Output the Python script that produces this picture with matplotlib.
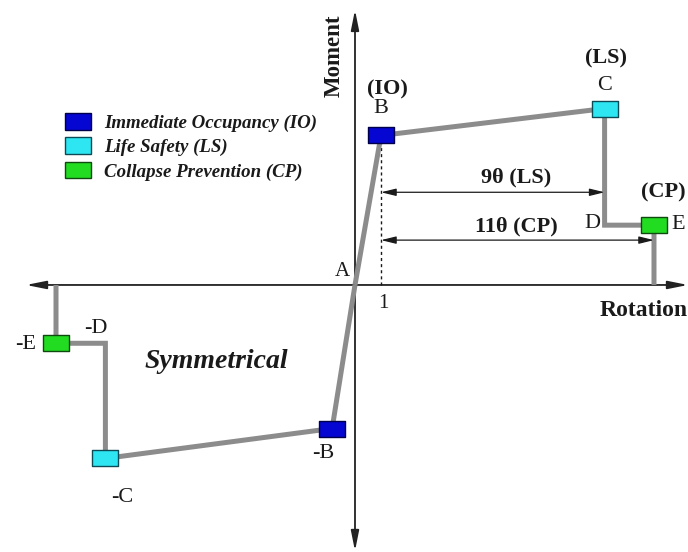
import matplotlib
matplotlib.use("Agg")
import matplotlib.pyplot as plt
from matplotlib.path import Path
from matplotlib.patches import Patch

# Generalized moment-rotation backbone (positive branch): A, B, C, D, E, end on axis
pos_rotation = [0.0, 1.0, 9.6, 9.6, 11.5, 11.5]
pos_moment = [0.0, 1.0, 1.18, 0.40, 0.40, 0.0]
pos_labels = ["A", "B", "C", "D", "E"]

# Negative branch: A, -B, -C, -D, -E, end on axis
neg_rotation = [0.0, -0.88, -9.6, -9.6, -11.5, -11.5]
neg_moment = [0.0, -0.96, -1.16, -0.39, -0.39, 0.0]
neg_labels = ["", "-B", "-C", "-D", "-E"]

# Performance levels and the backbone points where they sit
level_names = ["Immediate Occupancy (IO)", "Life Safety (LS)", "Collapse Prevention (CP)"]
level_tags = ["(IO)", "(LS)", "(CP)"]
level_colors = ["#0606d2", "#2ee6f2", "#22dc22"]
level_edges = ["#00004a", "#0c4a55", "#0e4a0e"]
level_index = [1, 2, 4]

# Plastic rotation spans measured from yield (in units of θ)
span_labels = ["9θ (LS)", "11θ (CP)"]
span_end_index = [2, 4]
span_height = [0.62, 0.30]

SERIF = ["Liberation Serif", "DejaVu Serif"]
LINE = "#8c8c8c"
INK = "#1a1a1a"

fig = plt.figure(figsize=(6.88, 5.52), dpi=100)
ax = fig.add_axes([0, 0, 1, 1])
ax.set_xlim(-13.654, 12.808)
ax.set_ylim(-1.786, 1.906)
ax.axis("off")


def at(xp, yp):
    """Position given in pixels from the top-left corner -> data coordinates."""
    return (xp - 355) / 26.0, (285 - yp) / 149.5


# coordinate axes with arrow heads at both ends
axis_arrow = dict(arrowstyle="<|-|>,head_length=1.0,head_width=0.2",
                  color="#222222", lw=1.3, shrinkA=0, shrinkB=0, mutation_scale=12)
ax.annotate("", xy=at(688, 285), xytext=at(26, 285), arrowprops=axis_arrow, zorder=1)
ax.annotate("", xy=at(355, 10), xytext=at(355, 551), arrowprops=axis_arrow, zorder=1)

# backbone curve
ax.plot(pos_rotation, pos_moment, color=LINE, lw=3.6, solid_joinstyle="miter",
        solid_capstyle="butt", zorder=2)
ax.plot(neg_rotation, neg_moment, color=LINE, lw=3.6, solid_joinstyle="miter",
        solid_capstyle="butt", zorder=2)

# yield rotation reference line
ax.plot([pos_rotation[1], pos_rotation[1]], [0, pos_moment[1] - 0.06],
        color=INK, lw=1.0, linestyle=(0, (2.2, 2.2)), zorder=1)

# performance level markers
box = Path([(-1, -0.65), (1, -0.65), (1, 0.65), (-1, 0.65), (-1, -0.65)],
           [Path.MOVETO, Path.LINETO, Path.LINETO, Path.LINETO, Path.CLOSEPOLY])
for i, idx in enumerate(level_index):
    for xs, ys in ((pos_rotation, pos_moment), (neg_rotation, neg_moment)):
        ax.plot(xs[idx], ys[idx], marker=box, markersize=18.5, linestyle="none",
                markerfacecolor=level_colors[i], markeredgecolor=level_edges[i],
                markeredgewidth=1.0, zorder=4)

# dimension arrows for the plastic rotation spans
dim_arrow = dict(arrowstyle="<|-|>,head_length=0.9,head_width=0.22",
                 color=INK, lw=0.9, shrinkA=0, shrinkB=0, mutation_scale=10)
span_text_y = [178, 227]
for k, end in enumerate(span_end_index):
    ax.annotate("", xy=(pos_rotation[end], span_height[k]),
                xytext=(pos_rotation[1], span_height[k]), arrowprops=dim_arrow, zorder=3)
    ax.text(*at(516, span_text_y[k]), span_labels[k], family=SERIF, weight="bold",
            fontsize=16, ha="center", va="center", color=INK)

# point labels
ax.text(*at(342, 272), pos_labels[0], family=SERIF, fontsize=15, ha="center", va="center", color=INK)
ax.text(*at(381, 109), pos_labels[1], family=SERIF, fontsize=16, ha="center", va="center", color=INK)
ax.text(*at(605, 86), pos_labels[2], family=SERIF, fontsize=16, ha="center", va="center", color=INK)
ax.text(*at(592, 224), pos_labels[3], family=SERIF, fontsize=16, ha="center", va="center", color=INK)
ax.text(*at(678, 225), pos_labels[4], family=SERIF, fontsize=16, ha="center", va="center", color=INK)
ax.text(*at(323, 454), neg_labels[1], family=SERIF, fontsize=16, ha="center", va="center", color=INK)
ax.text(*at(122, 498), neg_labels[2], family=SERIF, fontsize=16, ha="center", va="center", color=INK)
ax.text(*at(96, 329), neg_labels[3], family=SERIF, fontsize=16, ha="center", va="center", color=INK)
ax.text(*at(26, 345), neg_labels[4], family=SERIF, fontsize=16, ha="center", va="center", color=INK)

# performance level tags above the points
tag_pos = [(387, 90), (606, 59), (663, 193)]
for k, (xp, yp) in enumerate(tag_pos):
    ax.text(*at(xp, yp), level_tags[k], family=SERIF, weight="bold", fontsize=16,
            ha="center", va="center", color=INK)

# axis labels and annotations
ax.text(*at(383, 304), "1", family=SERIF, fontsize=15, ha="center", va="center", color=INK)
ax.text(*at(600, 311), "Rotation", family=SERIF, weight="bold", fontsize=17,
        ha="left", va="center", color=INK)
ax.text(*at(334, 56), "Moment", family=SERIF, weight="bold", fontsize=16.5,
        rotation=90, ha="center", va="center", color=INK)
ax.text(*at(216, 362), "Symmetrical", family=SERIF, weight="bold", style="italic",
        fontsize=20, ha="center", va="center", color=INK)

# legend
handles = [Patch(facecolor=c, edgecolor=e, linewidth=1.0)
           for c, e in zip(level_colors, level_edges)]
leg = ax.legend(handles, level_names, loc="upper left",
                bbox_to_anchor=(65 / 688, 1 - 113 / 552), bbox_transform=fig.transFigure,
                frameon=False, borderpad=0, borderaxespad=0, handlelength=1.39,
                handleheight=1.0, handletextpad=0.7, labelspacing=0.28,
                prop=dict(family=SERIF, weight="bold", style="italic", size=13.6))
for t in leg.get_texts():
    t.set_color(INK)

fig.savefig("out.png", dpi=100)
